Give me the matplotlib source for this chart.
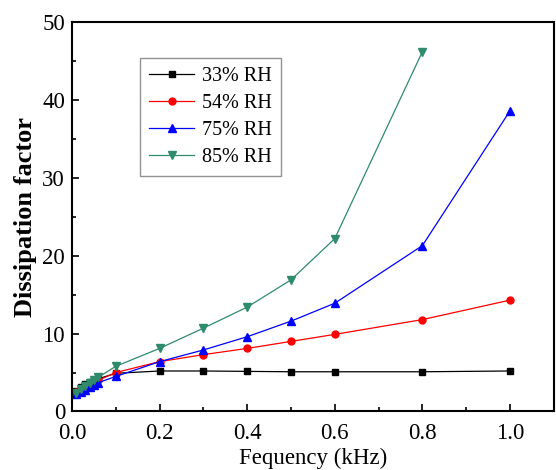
import matplotlib
matplotlib.use("Agg")
import matplotlib.pyplot as plt
from matplotlib.ticker import MultipleLocator

plt.rcParams['font.family'] = ['Liberation Serif', 'DejaVu Serif']
plt.rcParams['mathtext.fontset'] = 'stix'

freq = [0.01, 0.02, 0.03, 0.04, 0.05, 0.06, 0.1, 0.2, 0.3, 0.4, 0.5, 0.6, 0.8, 1.0]
rh33 = [2.6, 3.1, 3.5, 3.8, 4.0, 4.2, 4.9, 5.2, 5.2, 5.15, 5.1, 5.1, 5.1, 5.2]
rh54 = [2.5, 2.9, 3.3, 3.6, 3.8, 4.0, 5.0, 6.4, 7.3, 8.1, 9.0, 9.9, 11.8, 14.3]
rh75 = [2.2, 2.5, 2.8, 3.1, 3.4, 3.7, 4.5, 6.4, 7.9, 9.6, 11.6, 13.9, 21.3, 38.6]
freq85 = [0.01, 0.02, 0.03, 0.04, 0.05, 0.06, 0.1, 0.2, 0.3, 0.4, 0.5, 0.6, 0.8]
rh85 = [2.4, 2.9, 3.3, 3.7, 4.0, 4.4, 5.8, 8.1, 10.7, 13.4, 16.9, 22.2, 46.2]
labels = ['33% RH', '54% RH', '75% RH', '85% RH']
xticks = [0, 0.2, 0.4, 0.6, 0.8, 1.0]
xticklabels = ['0.0', '0.2', '0.4', '0.6', '0.8', '1.0']

fig = plt.figure(figsize=(5.56, 4.70), dpi=100)
ax = fig.add_axes([0.1295, 0.1245, 0.8665, 0.8285])

ax.plot(freq, rh33, color='black', marker='s', ms=5, lw=0.9, label=labels[0])
ax.plot(freq, rh54, color='red', marker='o', ms=5, lw=0.9, label=labels[1])
ax.plot(freq, rh75, color='blue', marker='^', ms=6, lw=0.9, label=labels[2])
ax.plot(freq85, rh85, color='#2e8b6b', marker='v', ms=6, lw=0.9, label=labels[3])

ax.set_xlim(0, 1.1)
ax.set_ylim(0, 50)
ax.set_xticks(xticks)
ax.set_xticklabels(xticklabels)
ax.xaxis.set_minor_locator(MultipleLocator(0.1))
ax.yaxis.set_major_locator(MultipleLocator(10))
ax.yaxis.set_minor_locator(MultipleLocator(5))
ax.tick_params(which='both', direction='in', labelsize=16.5, width=1.2)
ax.tick_params(axis='x', which='major', length=5, pad=8)
ax.tick_params(axis='y', which='major', length=5, pad=5)
ax.tick_params(which='minor', length=3)
for s in ax.spines.values():
    s.set_linewidth(1.5)

ax.set_xlabel('Fequency (kHz)', fontsize=16.5, labelpad=3)
ax.set_ylabel('Dissipation factor', fontsize=19, fontweight='bold', labelpad=4)

leg = ax.legend(loc='upper left', bbox_to_anchor=(0.142, 0.907), borderaxespad=0,
                fontsize=14.5, frameon=True, fancybox=False, edgecolor='#777777',
                handlelength=2.2, handletextpad=0.4, labelspacing=0.38, borderpad=0.45)
leg.get_frame().set_linewidth(1.0)

fig.savefig('out.png', dpi=100)
